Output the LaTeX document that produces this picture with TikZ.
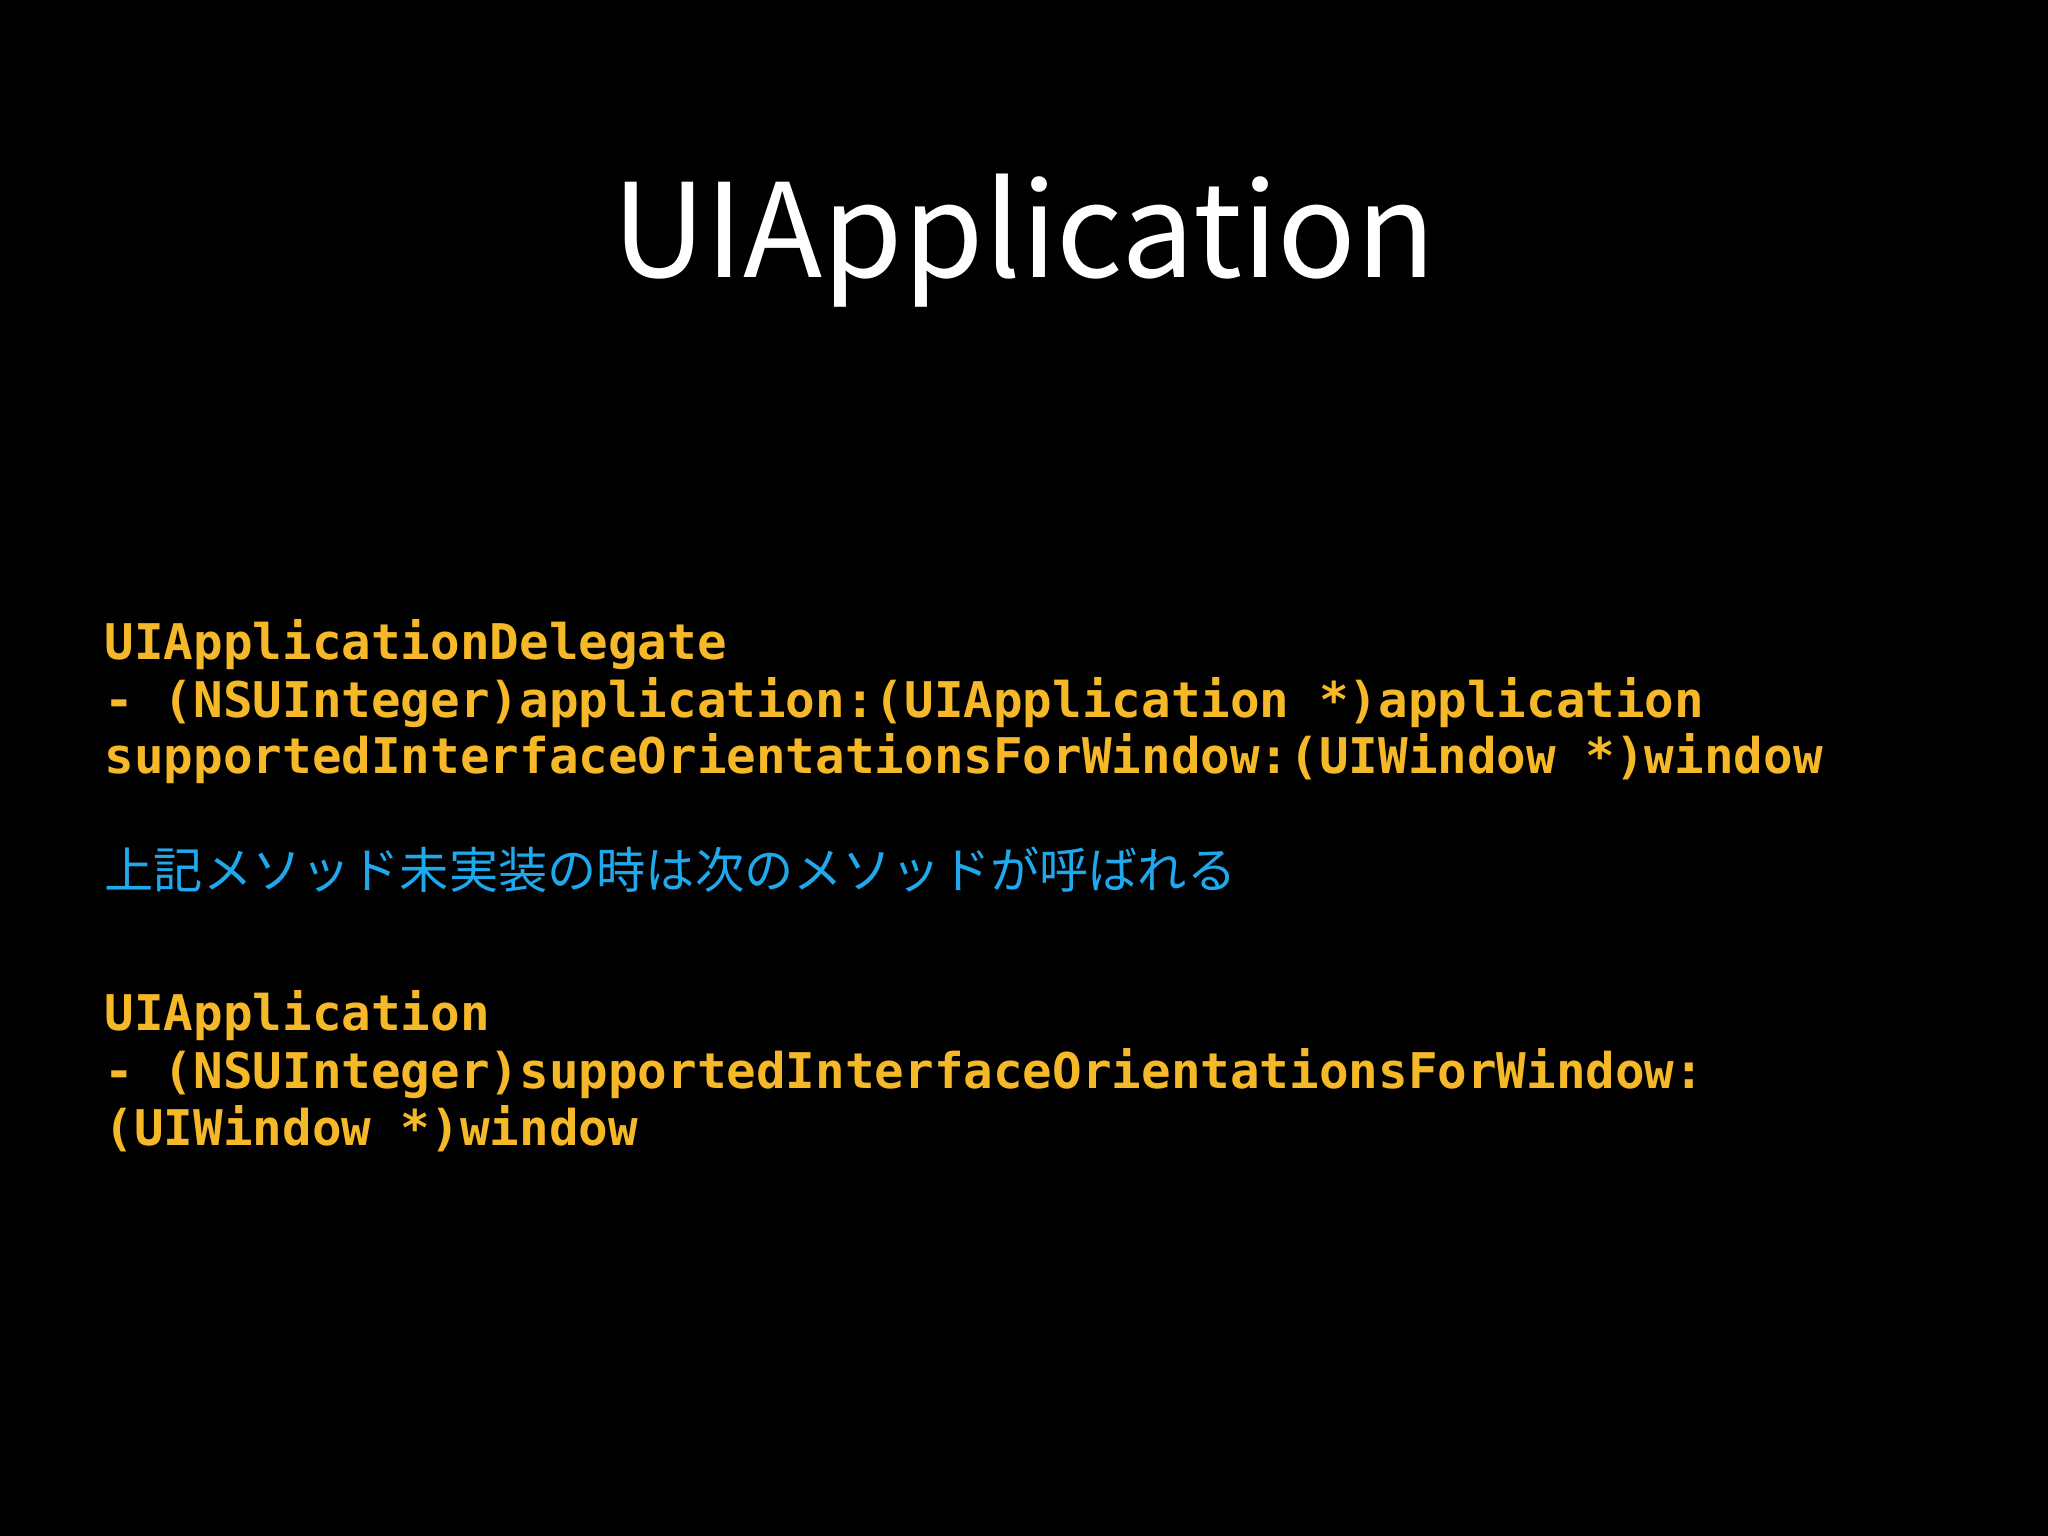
\documentclass[tikz,border=0pt]{standalone}
\usepackage{fontspec}
\setmonofont{DejaVu Sans Mono}
\newfontfamily\titlefont{Noto Sans CJK JP}[BoldFont={* Bold}]
\newfontfamily\cjk{Noto Sans CJK JP}
\definecolor{codey}{HTML}{F5B829}
\definecolor{noteb}{HTML}{1FA8EC}
\begin{document}
\begin{tikzpicture}
\fill[black] (0,0) rectangle (20.48,-15.36);
\useasboundingbox (0,0) rectangle (20.48,-15.36);
\tikzset{code/.style={anchor=base west,inner sep=0,text=codey,font=\ttfamily\bfseries\fontsize{14}{16}\selectfont},
note/.style={anchor=base west,inner sep=0,text=noteb,font=\cjk\fontsize{14}{16}\selectfont}}
\node[anchor=base,inner sep=0,text=white,font=\titlefont\fontsize{37}{40}\selectfont] (title) at (10.24,-2.78) {UIApplication};
\node[code] (a1) at (1.04,-6.60) {UIApplicationDelegate};
\node[code] (a2) at (1.04,-7.17) {- (NSUInteger)application:(UIApplication *)application};
\node[code] (a3) at (1.04,-7.74) {supportedInterfaceOrientationsForWindow:(UIWindow *)window};
\node[note] (n) at (1.04,-8.88) {上記メソッド未実装の時は次のメソッドが呼ばれる};
\node[code] (b1) at (1.04,-10.30) {UIApplication};
\node[code] (b2) at (1.04,-10.88) {- (NSUInteger)supportedInterfaceOrientationsForWindow:};
\node[code] (b3) at (1.04,-11.45) {(UIWindow *)window};
\end{tikzpicture}
\end{document}
